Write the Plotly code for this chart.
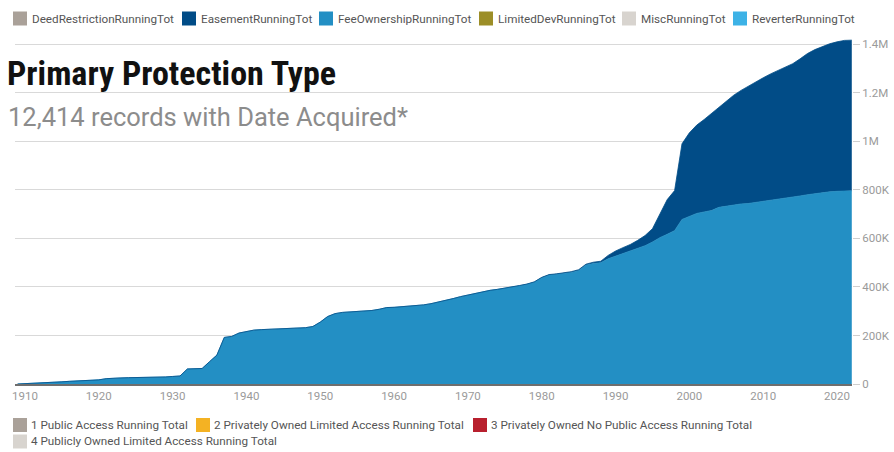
import plotly.graph_objects as go

# ---- data -------------------------------------------------------------
years = list(range(1909, 2023))

# running totals (thousands of acres) by primary protection type
fee_ownership_k = [
    0, 1, 2, 3, 5, 7, 9, 11, 12, 14,                  # 1909-1918
    16, 17, 22, 25, 25, 26, 26, 27, 27, 28,           # 1919-1928
    29, 31, 33, 62, 63, 64, 92, 119, 192, 196,        # 1929-1938
    210, 217, 222, 224, 225, 226, 226, 227, 229, 232, # 1939-1948
    237, 255, 278, 290, 295, 297, 299, 300, 303, 308, # 1949-1958
    315, 316, 318, 320, 322, 326, 331, 337, 344, 352, # 1959-1968
    360, 367, 375, 381, 386, 390, 394, 399, 405, 411, # 1969-1978
    420, 438, 449, 452, 455, 460, 468, 490, 497, 500, # 1979-1988
    516, 527, 537, 546, 557, 570, 585, 603, 617, 632, # 1989-1998
    678, 690, 703, 709, 715, 728, 733, 738, 742, 744, # 1999-2008
    748, 752, 756, 760, 765, 770, 775, 780, 785, 789, # 2009-2018
    792, 794, 796, 796,                               # 2019-2022
]
easement_k = [0] * 66 + [
    0.5, 0.5, 1, 1, 1, 1.5, 2, 2, 2, 3,               # 1975-1984
    3, 4, 5, 6, 14, 21, 25, 29, 35, 42,               # 1985-1994
    55, 97, 143, 165, 312, 345, 364, 381, 400, 412,   # 1995-2004
    432, 452, 468, 484, 497, 510, 522, 532, 541, 550, # 2005-2014
    565, 582, 593, 601, 610, 616, 620, 621,           # 2015-2022
]

x_ticks = list(range(1910, 2030, 10))
y_ticks = [0, 200_000, 400_000, 600_000, 800_000, 1_000_000, 1_200_000, 1_400_000]
y_tick_text = ["0", "200K", "400K", "600K", "800K", "1M", "1.2M", "1.4M"]

type_names = ["DeedRestrictionRunningTot", "EasementRunningTot", "FeeOwnershipRunningTot",
              "LimitedDevRunningTot", "MiscRunningTot", "ReverterRunningTot"]
access_names = ["1 Public Access Running Total", "2 Privately Owned Limited Access Running Total",
                "3 Privately Owned No Public Access Running Total",
                "4 Publicly Owned Limited Access Running Total"]

title_text = "Primary Protection Type"
subtitle_text = "12,414 records with Date Acquired*"

# ---- styling ----------------------------------------------------------
type_colors = ["#aaa199", "#014c87", "#238fc4", "#9c8e27", "#d8d4cf", "#3db2e6"]
access_colors = ["#aaa199", "#f4b223", "#b8202e", "#d8d4cf"]
FEE_COLOR = type_colors[2]
EASE_COLOR = type_colors[1]
FONT = "Roboto, 'Open Sans', sans-serif"

W, H = 894, 452
L, R, T, B = 15, 42, 37, 68
PW, PH = W - L - R, H - T - B


def px(x):
    return (x - L) / PW


def py(y):
    return (H - B - y) / PH


fig = go.Figure()
fig.add_trace(go.Scatter(
    x=years, y=[v * 1000 for v in fee_ownership_k], name=type_names[2],
    mode="lines", stackgroup="types", line=dict(color=FEE_COLOR, width=0.8),
    fillcolor=FEE_COLOR, showlegend=False, hoverinfo="skip"))
fig.add_trace(go.Scatter(
    x=years, y=[v * 1000 for v in easement_k], name=type_names[1],
    mode="lines", stackgroup="types", line=dict(color=EASE_COLOR, width=0.8),
    fillcolor=EASE_COLOR, showlegend=False, hoverinfo="skip"))

shapes, annotations = [], []

# legend swatches and labels (top row: protection types)
top_swatch_x = [13, 182, 319, 479, 622, 733]
for name, color, sx in zip(type_names, type_colors, top_swatch_x):
    shapes.append(dict(type="rect", xref="paper", yref="paper",
                       x0=px(sx), x1=px(sx + 14), y0=py(25.5), y1=py(11.5),
                       fillcolor=color, line=dict(width=0)))
    annotations.append(dict(text=name, xref="paper", yref="paper", x=px(sx + 17), y=py(18.5),
                            xanchor="left", yanchor="middle", showarrow=False,
                            font=dict(family=FONT, size=11.7, color="#555555")))

# legend swatches and labels (bottom rows: access categories)
bottom_pos = [(13, 425), (196, 425), (473, 425), (13, 441.5)]
for name, color, (sx, sy) in zip(access_names, access_colors, bottom_pos):
    shapes.append(dict(type="rect", xref="paper", yref="paper",
                       x0=px(sx), x1=px(sx + 14), y0=py(sy + 7), y1=py(sy - 7),
                       fillcolor=color, line=dict(width=0)))
    annotations.append(dict(text=name, xref="paper", yref="paper", x=px(sx + 16), y=py(sy),
                            xanchor="left", yanchor="middle", showarrow=False,
                            font=dict(family=FONT, size=11.7, color="#555555")))

annotations.append(dict(text="<b>" + title_text + "</b>", xref="paper", yref="paper",
                        x=px(5), y=py(73), xanchor="left", yanchor="middle", showarrow=False,
                        font=dict(family="'Liberation Sans Narrow', 'Roboto Condensed', 'Arial Narrow', Roboto, sans-serif",
                                  size=34, color="#111111")))
annotations.append(dict(text=subtitle_text, xref="paper", yref="paper",
                        x=px(6), y=py(117), xanchor="left", yanchor="middle", showarrow=False,
                        font=dict(family=FONT, size=25.5, color="#8c8c8c")))

fig.update_layout(
    width=W, height=H,
    margin=dict(l=L, r=R, t=T, b=B, pad=0, autoexpand=False),
    paper_bgcolor="white", plot_bgcolor="white",
    showlegend=False,
    shapes=shapes, annotations=annotations,
    font=dict(family=FONT),
    xaxis=dict(range=[1908.65, 2022.03], tickvals=x_ticks, showgrid=False, zeroline=False,
               showline=True, linecolor="#6e6e6e", linewidth=1.5, ticks="", automargin=False,
               tickfont=dict(family=FONT, size=11.5, color="#9a9a9a")),
    yaxis=dict(side="right", range=[0, 1_430_000], tickvals=y_ticks, ticktext=y_tick_text,
               showgrid=True, gridcolor="#d9d9d9", gridwidth=1.2, zeroline=False, showline=False,
               ticks="outside", ticklen=7, tickcolor="#cfcfcf", tickwidth=1, automargin=False,
               tickfont=dict(family=FONT, size=11.5, color="#9a9a9a")),
)

fig.write_html("out.html")
